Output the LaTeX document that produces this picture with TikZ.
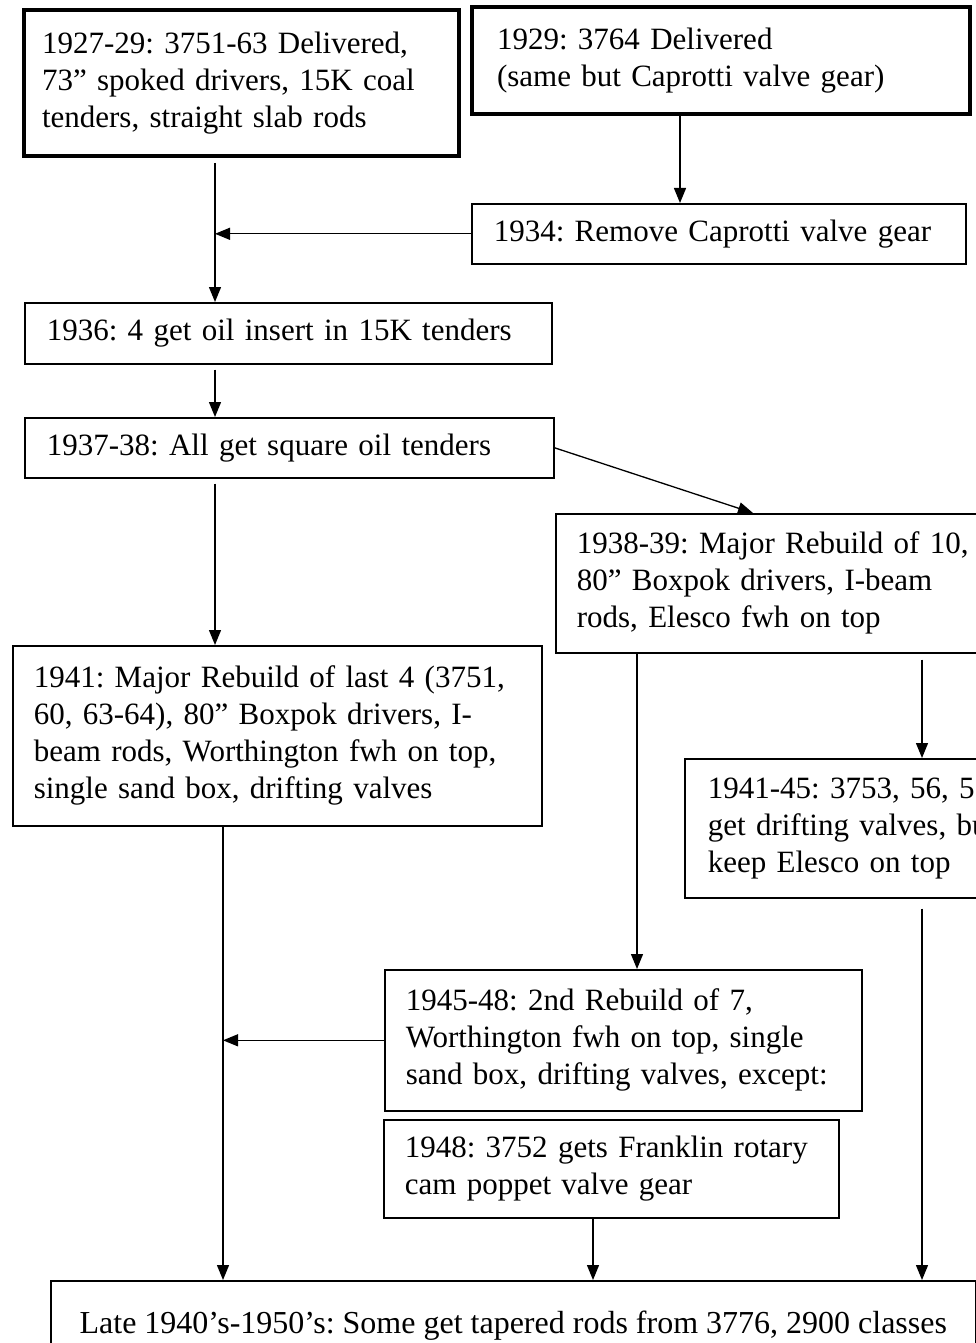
\documentclass[tikz,border=0pt]{standalone}
\usepackage{fontspec}
\setmainfont{Liberation Serif}
\usetikzlibrary{arrows.meta}

\tikzset{
  card/.style={draw, line width=1.6pt, anchor=north west, align=left, inner xsep=22pt, inner ysep=0pt, font=\fontsize{31}{37}\selectfont\frenchspacing},
  heavy/.style={card, line width=4pt},
  link/.style={line width=1.3pt, -{Triangle[length=15pt,width=12pt]}},
}

\begin{document}
\begin{tikzpicture}[x=1pt,y=-1pt]
\path[use as bounding box] (0,0) rectangle (976,1343);
\clip (0,0) rectangle (976,1343);
% columns of the vertical runs
\coordinate (colA) at (215,0);
\coordinate (colB) at (680,0);
\coordinate (colD) at (753,0);
\coordinate (colF) at (637,0);
\coordinate (colG) at (223,0);
\coordinate (colH) at (922,0);
\coordinate (colJ) at (593,0);
% boxes
\node[heavy, inner xsep=18pt, text width=399pt, minimum height=146pt] (deliv) at (22,8) {1927-29: 3751-63 Delivered,\\73” spoked drivers, 15K coal\\tenders, straight slab rods};
\node[heavy, inner xsep=25pt, text width=448pt, minimum height=107pt] (capro) at (470,5) {1929: 3764 Delivered\\(same but Caprotti valve gear)};
\node[card, inner xsep=22pt, text width=450pt, minimum height=60pt] (remove) at (471,203) {1934: Remove Caprotti valve gear};
\node[card, text width=483pt, minimum height=61pt] (insert) at (24,302) {1936: 4 get oil insert in 15K tenders};
\node[card, text width=485pt, minimum height=60pt] (square) at (24,417) {1937-38: All get square oil tenders};
\node[card, inner xsep=21pt, text width=413pt, minimum height=139pt] (rebuild) at (555,513) {1938-39: Major Rebuild of 10,\\80” Boxpok drivers, I-beam\\rods, Elesco fwh on top};
\node[card, inner xsep=21pt, text width=487pt, minimum height=180pt] (last4) at (12,645) {1941: Major Rebuild of last 4 (3751,\\60, 63-64), 80” Boxpok drivers, I-\\beam rods, Worthington fwh on top,\\single sand box, drifting valves};
\node[card, inner xsep=23pt, text width=320pt, minimum height=139pt] (drift) at (684,758) {1941-45: 3753, 56, 57\\get drifting valves, but\\keep Elesco on top};
\node[card, inner xsep=21pt, text width=435pt, minimum height=141pt] (second) at (384,969) {1945-48: 2nd Rebuild of 7,\\Worthington fwh on top, single\\sand box, drifting valves, except:};
\node[card, inner xsep=21pt, text width=413pt, minimum height=98pt] (franklin) at (383,1119) {1948: 3752 gets Franklin rotary\\cam poppet valve gear};
\node[card, minimum width=925pt, minimum height=90pt, font=\fontsize{32}{37}\selectfont\frenchspacing] (tapered) at (50,1280) {Late 1940’s-1950’s: Some get tapered rods from 3776, 2900 classes};
% connectors
\draw[link, shorten <=5pt] (deliv.south -| colA) -- (insert.north -| colA);
\draw[link] (capro.south -| colB) -- (remove.north -| colB);
\draw[link] (remove.west) -- (remove.west -| colA);
\draw[link, shorten <=5pt] (insert.south -| colA) -- (square.north -| colA);
\draw[link] (square.east) -- (rebuild.north -| colD);
\draw[link, shorten <=5pt] (square.south -| colA) -- (last4.north -| colA);
\draw[link] (rebuild.south -| colF) -- (second.north -| colF);
\draw[link, shorten <=6pt] (rebuild.south -| colH) -- (drift.north -| colH);
\draw[link] (second.west) -- (second.west -| colG);
\draw[link] (last4.south -| colG) -- (tapered.north -| colG);
\draw[link] (franklin.south -| colJ) -- (tapered.north -| colJ);
\draw[link, shorten <=10pt] (drift.south -| colH) -- (tapered.north -| colH);
\end{tikzpicture}
\end{document}
